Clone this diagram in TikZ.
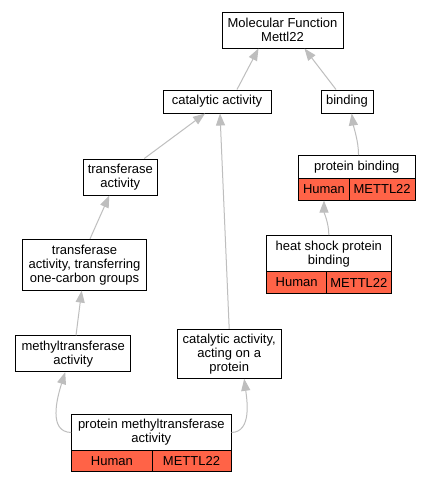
\documentclass[tikz,border=0pt]{standalone}
\usepackage{fontspec}
\setmainfont{Liberation Sans}
\usetikzlibrary{arrows.meta}
\definecolor{edgegray}{HTML}{BEBEBE}
\definecolor{cellred}{HTML}{FF6347}
\tikzset{
  box/.style={draw=black, line width=1pt, fill=white, align=center, inner sep=0pt,
    font=\fontsize{13}{14}\selectfont},
  cell/.style={box, fill=cellred},
  edge/.style={draw=edgegray, line width=1pt, -{Triangle[length=12pt,width=9pt]}},
}
\begin{document}
\begin{tikzpicture}[x=1pt,y=-1pt]
\path[use as bounding box, fill=white] (0,0) rectangle (429,483);
% plain boxes
\node[box, minimum width=121pt, minimum height=36pt] (mf) at (282.5,30) {Molecular Function\\Mettl22};
\node[box, minimum width=108pt, minimum height=23pt] (cat) at (217,101.5) {catalytic activity};
\node[box, minimum width=52pt, minimum height=23pt] (bind) at (347,101.5) {binding};
\node[box, minimum width=74pt, minimum height=36pt] (trans) at (120.3,177) {transferase\\activity};
\node[box, minimum width=124.4pt, minimum height=50.7pt] (oc) at (84.5,264.7) {transferase\\activity, transferring\\one-carbon groups};
\node[box, minimum width=115pt, minimum height=35.7pt] (mt) at (73.2,353.8) {methyltransferase\\activity};
\node[box, minimum width=103.7pt, minimum height=49pt] (caop) at (229.2,353.8) {catalytic activity,\\acting on a\\protein};
% protein binding table
\node[box, minimum width=116.3pt, minimum height=22.6pt] (pbw) at (356.85,167) {protein binding};
\node[cell, minimum width=50.6pt, minimum height=21.7pt] (pbh) at (324,189.15) {Human};
\node[cell, minimum width=65.7pt, minimum height=21.7pt] (pbm) at (382.15,189.15) {METTL22};
% heat shock protein binding table
\node[box, minimum width=124.3pt, minimum height=36pt] (hsw) at (328.85,253.7) {heat shock protein\\binding};
\node[cell, minimum width=60pt, minimum height=21.6pt] (hsh) at (296.7,282.5) {Human};
\node[cell, minimum width=64.3pt, minimum height=21.6pt] (hsm) at (358.85,282.5) {METTL22};
% protein methyltransferase activity table
\node[box, minimum width=159.3pt, minimum height=36.4pt] (pmaw) at (151.35,432.5) {protein methyltransferase\\activity};
\node[cell, minimum width=80.3pt, minimum height=21pt] (pmah) at (111.85,461.2) {Human};
\node[cell, minimum width=79pt, minimum height=21pt] (pmam) at (191.5,461.2) {METTL22};
% edges
\draw[edge] ([xshift=20pt]cat.north) -- ([xshift=-24pt]mf.south);
\draw[edge] ([xshift=-11pt]bind.north) -- ([xshift=22pt]mf.south);
\draw[edge] ([xshift=24pt]trans.north) -- ([xshift=-12pt]cat.south);
\draw[edge] (caop.north) -- ([xshift=3pt]cat.south);
\draw[edge] ([xshift=1.7pt]pbw.north) .. controls +(0,-14) and +(2,14) .. ([xshift=4.7pt]bind.south);
\draw[edge] ([xshift=5.5pt]oc.north) -- ([xshift=-11pt]trans.south);
\draw[edge] (hsw.north) .. controls +(0,-12) and +(0,12) .. (pbh.south);
\draw[edge] ([xshift=2.8pt]mt.north) -- ([xshift=-2.8pt]oc.south);
\draw[edge] (pmaw.west) .. controls (48,432) and (57,398) .. ([xshift=-8pt]mt.south);
\draw[edge] (pmaw.east) .. controls (252,432) and (247,400) .. ([xshift=15pt]caop.south);
\end{tikzpicture}
\end{document}
